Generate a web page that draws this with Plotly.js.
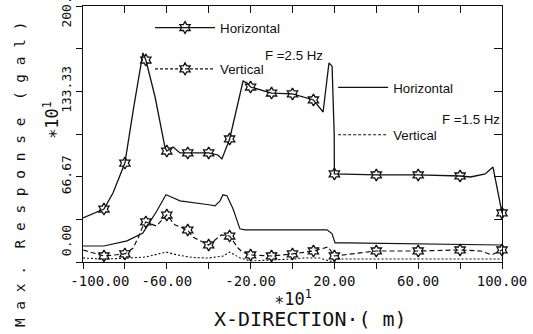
<!DOCTYPE html>
<html>
<head>
<meta charset="utf-8">
<script src="https://cdn.plot.ly/plotly-3.0.1.min.js"></script>
<style>html,body{margin:0;padding:0;background:#fff;}#chart{width:533px;height:334px;}</style>
</head>
<body>
<div id="chart"></div>
<script>
// ---- data (x in *10^1 m, response in *10^1 gal) ----
const h25X = [-100,-90,-85.7,-80,-76,-71.4,-70,-65.6,-60.9,-60,-57,-53.7,-50,-40,-35.6,-33.7,-30,-23.6,-21.7,-20,-10,0,10,14.6,17.4,18.9,19.9,20,40,60,80,85,92,95.7,100];
const h25Y = [34.4,41.4,53.9,77.3,118.8,163.3,157.8,128.9,89.8,86.7,89.8,85.2,85.2,85.2,83.6,80.5,96.1,141.4,139.8,136.7,132,131.3,126.6,117.2,155.5,153,100,68.8,68,68,67.2,66.4,68.8,74.2,38.3];

const v25X = [-100,-95,-90,-80,-76.1,-73.7,-71.8,-70,-65,-60,-56,-50,-47.6,-40,-34,-30,-26,-24,-20,-10,0,10,17,20,40,60,80,90,95,100];
const v25Y = [9.4,7,4.7,6.3,10.9,18.8,26.6,31.3,28.1,36.7,28.9,25,19.5,13.3,21.1,20.3,10.9,7.8,5.5,4.7,6.3,8.6,11.7,4.7,8.6,8.6,9.4,8.6,5.5,9.4];

const markX = [-90,-80,-70,-60,-50,-40,-30,-20,-10,0,10,20,40,60,80,100];

const h15X = [-100,-90,-79,-71.4,-64.7,-60.4,-57,-53.7,-39.9,-37,-34.6,-33.2,-31.3,-28.4,-25.1,-22.7,3.6,16.5,18.9,20.3,26,100];
const h15Y = [12.5,12.5,16.5,22.7,40,52.5,50.2,47.8,44.7,43.9,47.8,52.5,51.8,41.6,25.9,25.1,25.1,25.1,22,14.9,14.9,13.3];

const v15X = [-100,-90,-80,-70,-64,-60.4,-55,-47.5,-40,-33,-30,-25,-20,-10,0,5,13,18,22,40,60,80,100];
const v15Y = [3.1,2.3,2.9,3.9,6.3,7.8,5.5,3.5,3.1,4.7,7.8,3.1,0.8,1.6,2.3,3.1,3.1,0.5,2.3,2.3,2.3,2.3,2.3];

const xTickVals = [-100,-80,-60,-40,-20,0,20,40,60,80,100];
const xTickText = ['\u00a0\u00a0\u00a0\u00a0-100.00','','-60.00','','-20.00','','20.00','','60.00','','100.00'];
const yTickVals = [0,33.333,66.667,100,133.333,166.667,200];
const yTickText = ['\u00a0\u00a0\u00a0\u00a0\u00a00.00','','66.67','','133.33','','200.00'];

const seriesNames = ['Horizontal','Vertical'];
const freqLabels = ['F =2.5 Hz','F =1.5 Hz'];

// ---- build ----
const pick = (xs, ys, x) => ys[xs.indexOf(x)];
const h25MY = markX.map(x => pick(h25X, h25Y, x));
const v25MY = markX.map(x => pick(v25X, v25Y, x));

const black = '#111';
const mk = {symbol:'hexagram-open', size:9, color:black, line:{width:1.3, color:black}};

const traces = [
  {x:h25X, y:h25Y, mode:'lines', line:{color:black, width:1.3, simplify:false}, showlegend:false},
  {x:markX, y:h25MY, mode:'markers', marker:mk, showlegend:false, cliponaxis:false},
  {x:v25X, y:v25Y, mode:'lines', line:{color:black, width:1.2, dash:'5px,3px', simplify:false}, showlegend:false},
  {x:markX, y:v25MY, mode:'markers', marker:mk, showlegend:false, cliponaxis:false},
  {x:h15X, y:h15Y, mode:'lines', line:{color:black, width:1.2, simplify:false}, showlegend:false},
  {x:v15X, y:v15Y, mode:'lines', line:{color:black, width:1.1, dash:'2px,2px', simplify:false}, showlegend:false},
  // legend entries
  {x:[null], y:[null], mode:'lines+markers', name:seriesNames[0], line:{color:black, width:1.3}, marker:mk, legend:'legend', legendgroup:'a'},
  {x:[null], y:[null], mode:'lines+markers', name:seriesNames[1], line:{color:black, width:1.2, dash:'3px,2px'}, marker:mk, legend:'legend', legendgroup:'b'},
  {x:[null], y:[null], mode:'lines', name:seriesNames[0], line:{color:black, width:1.3}, legend:'legend2', legendgroup:'c'},
  {x:[null], y:[null], mode:'lines', name:seriesNames[1], line:{color:black, width:1.2, dash:'3px,2px'}, legend:'legend2', legendgroup:'d'},
  // mirror axes carrier
  {x:[null], y:[null], xaxis:'x2', yaxis:'y2', showlegend:false, mode:'lines'}
];

const legFont = {family:'Liberation Sans, Arial, sans-serif', size:13.3, color:black};
const monoFam = 'DejaVu Sans Mono, monospace';

const ann = (x, y, text, font, angle) => ({xref:'paper', yref:'paper', x:x, y:y, text:text, showarrow:false,
  xanchor:'center', yanchor:'middle', textangle:angle || 0, font:font});

const layout = {
  width:533, height:334,
  margin:{l:83, r:31, t:6, b:72},
  paper_bgcolor:'#fff', plot_bgcolor:'#fff',
  font:{family:monoFam, color:black},
  xaxis:{range:[-100,100], tickvals:xTickVals, ticktext:xTickText, tickangle:0,
         ticks:'outside', ticklen:6, tickwidth:1, tickcolor:black, ticklabeloverflow:'allow',
         showline:true, linecolor:black, linewidth:1.3, showgrid:false, zeroline:false,
         tickfont:{family:monoFam, size:14, color:black}},
  yaxis:{range:[0,200], tickvals:yTickVals, ticktext:yTickText, tickangle:-90,
         ticks:'outside', ticklen:6, tickwidth:1, tickcolor:black, ticklabeloverflow:'allow',
         showline:true, linecolor:black, linewidth:1.3, showgrid:false, zeroline:false,
         tickfont:{family:monoFam, size:13, color:black}},
  xaxis2:{overlaying:'x', matches:'x', side:'top', range:[-100,100], tickvals:xTickVals, showticklabels:false,
          ticks:'inside', ticklen:7, tickcolor:black, showline:true, linecolor:black, linewidth:1.3, showgrid:false, zeroline:false},
  yaxis2:{overlaying:'y', matches:'y', side:'right', range:[0,200], tickvals:yTickVals, showticklabels:false,
          ticks:'inside', ticklen:8, tickcolor:black, showline:true, linecolor:black, linewidth:1.3, showgrid:false, zeroline:false},
  legend:{x:0.16, y:0.975, xanchor:'left', yanchor:'top', bgcolor:'rgba(0,0,0,0)', borderwidth:0,
          font:legFont, itemwidth:60, tracegroupgap:21, traceorder:'grouped'},
  legend2:{x:0.597, y:0.741, xanchor:'left', yanchor:'top', bgcolor:'rgba(0,0,0,0)', borderwidth:0,
          font:legFont, itemwidth:50, tracegroupgap:27, traceorder:'grouped'},
  annotations:[
    ann(0.504, 0.805, freqLabels[0], legFont),
    ann(0.927, 0.555, freqLabels[1], legFont),
    ann(-0.150, 0.344, 'M a x .  R e s p o n s e  ( g a l )', {family:monoFam, size:14.5, color:black}, -90),
    ann(-0.0764, 0.555, '\u221710<sup>1</sup>', {family:monoFam, size:17, color:black}, -90),
    ann(0.501, -0.14, '\u221710<sup>1</sup>', {family:monoFam, size:17, color:black}),
    ann(0.542, -0.222, 'X-DIRECTION\u00b7( m)', {family:monoFam, size:20, color:black})
  ]
};

Plotly.newPlot('chart', traces, layout, {displayModeBar:false, staticPlot:true});
</script>
</body>
</html>
